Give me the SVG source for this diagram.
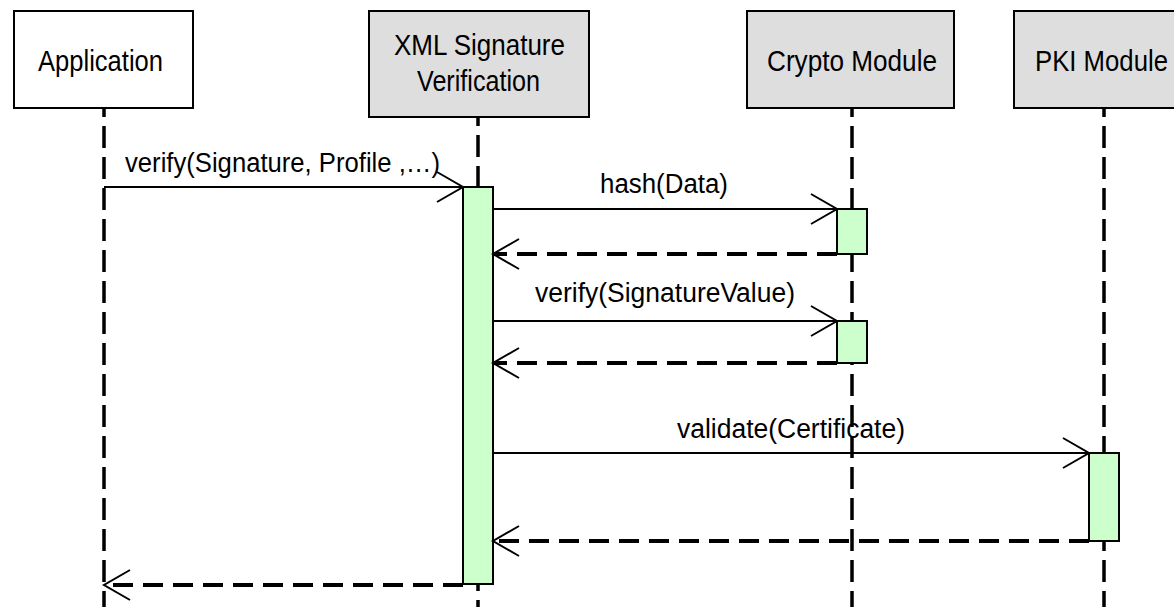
<svg xmlns="http://www.w3.org/2000/svg" width="1174" height="607" viewBox="0 0 1174 607">
  <style>
    .box { stroke: #000; stroke-width: 2; }
    .actor { fill: #ffffff; }
    .module { fill: #dedede; }
    .lifeline { stroke: #000; stroke-width: 3.5; stroke-dasharray: 22 9; stroke-dashoffset: 13; fill: none; }
    .activation { fill: #ccffcc; stroke: #000; stroke-width: 2; }
    .call { stroke: #000; stroke-width: 2; fill: none; marker-end: url(#open); }
    .reply { stroke: #000; stroke-width: 4; stroke-dasharray: 20 10; fill: none; marker-end: url(#open); }
    text { font-family: "Liberation Sans", Arial, sans-serif; fill: #000; }
    .name { font-size: 29px; }
    .msg { font-size: 27px; }
  </style>
  <defs>
    <marker id="open" markerUnits="userSpaceOnUse" orient="auto" refX="0" refY="0" markerWidth="40" markerHeight="40" overflow="visible">
      <path d="M-26,-15 L0,0 L-26,15" fill="none" stroke="#000" stroke-width="2" stroke-dasharray="none"/>
    </marker>
  </defs>
  <rect width="1174" height="607" fill="#ffffff"/>

  <!-- lifelines (drawn first, activations sit on top) -->
  <g id="lifelines">
    <line class="lifeline" x1="104" y1="108" x2="104" y2="607"/>
    <line class="lifeline" x1="478" y1="117" x2="478" y2="607"/>
    <line class="lifeline" x1="852" y1="108" x2="852" y2="607"/>
    <line class="lifeline" x1="1104" y1="108" x2="1104" y2="607"/>
  </g>

  <g id="node-application">
    <rect class="box actor" x="14" y="11" width="179" height="97"/>
    <text class="name" x="38" y="71" textLength="125" lengthAdjust="spacingAndGlyphs">Application</text>
  </g>

  <g id="node-xml-signature-verification">
    <rect class="box module" x="369" y="11" width="220" height="106"/>
    <text class="name" x="394" y="55" textLength="171" lengthAdjust="spacingAndGlyphs">XML Signature</text>
    <text class="name" x="417" y="91" textLength="123" lengthAdjust="spacingAndGlyphs">Verification</text>
    <rect class="activation" x="463" y="187" width="30" height="397"/>
  </g>

  <g id="node-crypto-module">
    <rect class="box module" x="747" y="11" width="207" height="97"/>
    <text class="name" x="767" y="71" textLength="170" lengthAdjust="spacingAndGlyphs">Crypto Module</text>
    <rect class="activation" x="837" y="209" width="30" height="45"/>
    <rect class="activation" x="837" y="321" width="30" height="42"/>
  </g>

  <g id="node-pki-module">
    <rect class="box module" x="1014" y="11" width="180" height="97"/>
    <text class="name" x="1035" y="71" textLength="133" lengthAdjust="spacingAndGlyphs">PKI Module</text>
    <rect class="activation" x="1089" y="453" width="30" height="88"/>
  </g>

  <g id="connectors">
    <line class="call" x1="104" y1="187" x2="463" y2="187"/>
    <text class="msg" x="125" y="172" textLength="315" lengthAdjust="spacingAndGlyphs">verify(Signature, Profile ,…)</text>

    <line class="call" x1="493" y1="209" x2="837" y2="209"/>
    <text class="msg" x="600" y="193" textLength="128" lengthAdjust="spacingAndGlyphs">hash(Data)</text>
    <line class="reply" x1="837" y1="254" x2="493" y2="254"/>

    <line class="call" x1="493" y1="321" x2="837" y2="321"/>
    <text class="msg" x="535" y="302" textLength="260" lengthAdjust="spacingAndGlyphs">verify(SignatureValue)</text>
    <line class="reply" x1="837" y1="363" x2="493" y2="363"/>

    <line class="call" x1="493" y1="453" x2="1089" y2="453"/>
    <text class="msg" x="677" y="438" textLength="228" lengthAdjust="spacingAndGlyphs">validate(Certificate)</text>
    <line class="reply" x1="1089" y1="541" x2="493" y2="541"/>

    <line class="reply" x1="463" y1="585" x2="104" y2="585"/>
  </g>
</svg>
